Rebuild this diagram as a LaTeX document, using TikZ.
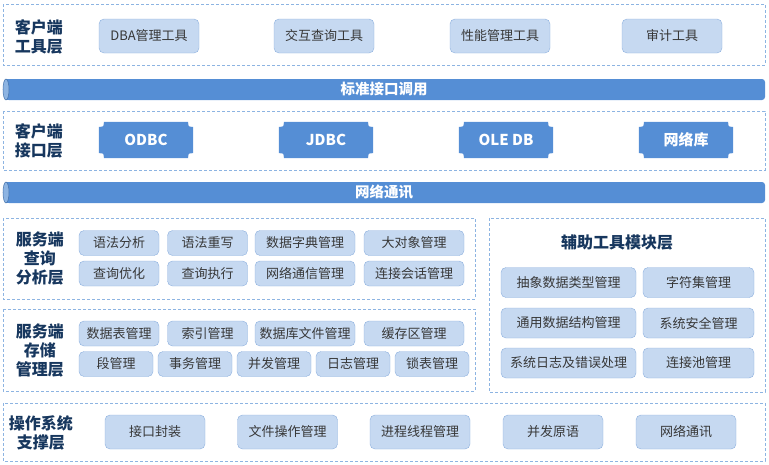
\documentclass[tikz,border=0pt]{standalone}
\usepackage{fontspec}
\setmainfont{Noto Sans CJK SC}
\usetikzlibrary{backgrounds}
\definecolor{barblue}{RGB}{85,142,213}
\definecolor{barend}{RGB}{141,180,226}
\definecolor{btnfill}{RGB}{198,217,241}
\definecolor{btnline}{RGB}{141,176,222}
\definecolor{dashline}{RGB}{141,180,226}
\definecolor{labnavy}{RGB}{23,55,94}
\definecolor{btntext}{RGB}{55,55,55}

\begin{document}
\begin{tikzpicture}[x=1pt,y=-1pt,
  layerbox/.style={draw=dashline,line width=0.8pt,dash pattern=on 3pt off 2pt},
  layerlab/.style={text=labnavy,align=center,font=\fontsize{16}{19}\selectfont\bfseries},
  tool/.style={draw=btnline,fill=btnfill,rounded corners=5pt,text=btntext,inner sep=0pt,
    font=\fontsize{13}{15}\selectfont,minimum height=25pt},
  bartext/.style={text=white,font=\fontsize{14.5}{16}\selectfont\bfseries},
  api/.style={text=white,inner sep=0pt,minimum width=94pt,minimum height=36pt,
    font=\fontsize{15}{17}\selectfont\bfseries}]
    \useasboundingbox (0,0) rectangle (769,464);
    % client tools
    \draw[layerbox] (3,4) rectangle (765,65);
    \node[layerlab] (cltools) at (39,37) {客户端\\工具层};
    \node[tool,minimum width=100pt,minimum height=34pt] (dba) at (149,36) {DBA管理工具};
    \node[tool,minimum width=100pt,minimum height=34pt] (query) at (324,36) {交互查询工具};
    \node[tool,minimum width=100pt,minimum height=34pt] (perf) at (500,36) {性能管理工具};
    \node[tool,minimum width=100pt,minimum height=34pt] (audit) at (672,36) {审计工具};
    % standard interface bar
    \fill[barblue,rounded corners=3pt] (6,79) rectangle (765,100);
    \fill[barblue] (6,79) rectangle (20,100);
    \filldraw[fill=barend,draw=barblue!80!black,line width=0.5pt] (6,89.5) ellipse [x radius=3,y radius=10.5];
    \node[bartext] (stdapi) at (384,89.5) {标准接口调用};
    % client interfaces
    \draw[layerbox] (3,111) rectangle (765,170);
    \node[layerlab] (clapi) at (39,141) {客户端\\接口层};
    \node[api] (odbc) at (146,140) {ODBC};
    \node[api] (jdbc) at (326,140) {JDBC};
    \node[api] (oledb) at (506,140) {OLE DB};
    \node[api] (netlib) at (686,140) {网络库};
    \begin{scope}[on background layer]
      \foreach \n in {odbc,jdbc,oledb,netlib}
        \fill[barblue] ([xshift=5pt]\n.north west) -- ([xshift=-5pt]\n.north east)
          .. controls ([xshift=-5pt,yshift=-5pt]\n.north east) .. ([yshift=-5pt]\n.north east)
          -- ([yshift=5pt]\n.south east)
          .. controls ([xshift=-5pt,yshift=5pt]\n.south east) .. ([xshift=-5pt]\n.south east)
          -- ([xshift=5pt]\n.south west)
          .. controls ([xshift=5pt,yshift=5pt]\n.south west) .. ([yshift=5pt]\n.south west)
          -- ([yshift=-5pt]\n.north west)
          .. controls ([xshift=5pt,yshift=-5pt]\n.north west) .. ([xshift=5pt]\n.north west)
          -- cycle;
    \end{scope}
    % network bar
    \fill[barblue,rounded corners=3pt] (6,182) rectangle (765,203);
    \fill[barblue] (6,182) rectangle (20,203);
    \filldraw[fill=barend,draw=barblue!80!black,line width=0.5pt] (6,192.5) ellipse [x radius=3,y radius=10.5];
    \node[bartext] (netbar) at (384,192.5) {网络通讯};
    % server query analysis
    \draw[layerbox] (3,218) rectangle (475,299);
    \node[layerlab] (qlayer) at (40,259) {服务端\\查询\\分析层};
    \node[tool,minimum width=80pt] (syntax) at (119,243) {语法分析};
    \node[tool,minimum width=80pt] (rewrite) at (207.5,243) {语法重写};
    \node[tool,minimum width=100pt] (dict) at (305,243) {数据字典管理};
    \node[tool,minimum width=100pt] (lob) at (414,243) {大对象管理};
    \node[tool,minimum width=80pt] (optim) at (119,273.5) {查询优化};
    \node[tool,minimum width=80pt] (exec) at (207.5,273.5) {查询执行};
    \node[tool,minimum width=100pt] (netcomm) at (305,273.5) {网络通信管理};
    \node[tool,minimum width=100pt] (session) at (414,273.5) {连接会话管理};
    % server storage
    \draw[layerbox] (3,309) rectangle (475,391);
    \node[layerlab] (slayer) at (40,351) {服务端\\存储\\管理层};
    \node[tool,minimum width=80pt] (table) at (119,333.5) {数据表管理};
    \node[tool,minimum width=80pt] (index) at (207.5,333.5) {索引管理};
    \node[tool,minimum width=100pt] (dbfile) at (305,333.5) {数据库文件管理};
    \node[tool,minimum width=100pt] (cache) at (414,333.5) {缓存区管理};
    \node[tool,minimum width=74pt] (segment) at (116,364) {段管理};
    \node[tool,minimum width=74pt] (trans) at (195,364) {事务管理};
    \node[tool,minimum width=74pt] (concur) at (274,364) {并发管理};
    \node[tool,minimum width=74pt] (logm) at (353,364) {日志管理};
    \node[tool,minimum width=74pt] (lock) at (432,364) {锁表管理};
    % auxiliary tools
    \draw[layerbox] (489,218) rectangle (765,392);
    \node[layerlab] (auxlayer) at (617,242) {辅助工具模块层};
    \node[tool,minimum width=135pt,minimum height=30pt] (adt) at (568.5,282.5) {抽象数据类型管理};
    \node[tool,minimum width=111pt,minimum height=30pt] (charset) at (698.5,282.5) {字符集管理};
    \node[tool,minimum width=135pt,minimum height=30pt] (struct) at (568.5,323) {通用数据结构管理};
    \node[tool,minimum width=111pt,minimum height=30pt] (secu) at (698.5,323) {系统安全管理};
    \node[tool,minimum width=135pt,minimum height=30pt] (syslog) at (568.5,363) {系统日志及错误处理};
    \node[tool,minimum width=111pt,minimum height=30pt] (pool) at (698.5,363) {连接池管理};
    % operating system support
    \draw[layerbox] (3,403) rectangle (765,461);
    \node[layerlab] (oslayer) at (41,433) {操作系统\\支撑层};
    \node[tool,minimum width=100pt,minimum height=34pt] (wrap) at (155,432) {接口封装};
    \node[tool,minimum width=100pt,minimum height=34pt] (fileop) at (287.5,432) {文件操作管理};
    \node[tool,minimum width=100pt,minimum height=34pt] (thread) at (420,432) {进程线程管理};
    \node[tool,minimum width=100pt,minimum height=34pt] (prim) at (553,432) {并发原语};
    \node[tool,minimum width=100pt,minimum height=34pt] (osnet) at (686,432) {网络通讯};
\end{tikzpicture}
\end{document}
